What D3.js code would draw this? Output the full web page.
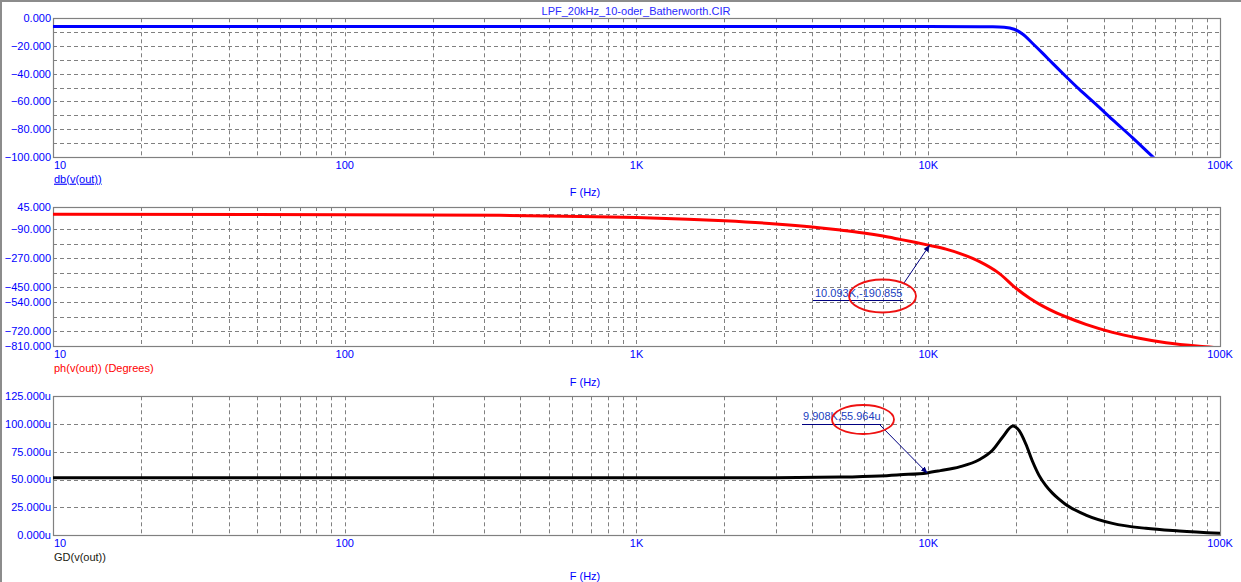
<!DOCTYPE html>
<html>
<head>
<meta charset="utf-8">
<script src="https://cdn.jsdelivr.net/npm/d3@7"></script>
<style>
  html, body { margin: 0; padding: 0; background: #fff; }
  svg { display: block; font-family: "Liberation Sans", Arial, sans-serif; }
</style>
</head>
<body>
<svg id="chart" width="1241" height="582"></svg>
<script>
// ---------------- DATA ----------------
const title = "LPF_20kHz_10-oder_Batherworth.CIR";
const xTickValues = [10, 100, 1000, 10000, 100000];
const xTickLabels = ["10", "100", "1K", "10K", "100K"];

// Magnitude (dB)
const magFreq = [10, 100, 1000, 5000, 10000, 15000, 16400, 18200, 19700, 21100, 22800, 24600, 26700, 29700, 32900, 37600, 42800, 50200, 58600, 65000];
const magDb   = [-6, -6, -6, -6, -6, -6.05, -6.15, -6.5, -7.9, -11.5, -18.2, -25, -32.6, -42.2, -51.2, -62.2, -73.2, -86.4, -99.8, -108.5];
const magTicks = [0, -20, -40, -60, -80, -100];
const magGrid  = [-10, -20, -30, -40, -50, -60, -70, -80, -90];

// Phase (degrees)
const phFreq = [10, 100, 340, 1000, 1500, 2000, 3000, 4000, 5000, 6000, 7000, 8000, 9000, 10093, 11500, 12800, 15000, 17500, 20000, 22200, 24700, 27500, 29600, 34700, 42800, 52900, 65300, 84900, 100000];
const phDeg  = [0, -2, -6.5, -20, -30, -40, -59, -78, -97, -115, -134, -154, -172, -190.855, -214, -240, -291, -363, -455, -515, -565, -606, -630, -677, -726, -762, -790, -812, -822];
const phTicks = [45, -90, -270, -450, -540, -720, -810];
const phGrid  = [0, -90, -180, -270, -360, -450, -540, -630, -720];

// Group delay (u s)
const gdFreq = [10, 100, 1000, 3000, 5000, 6800, 8000, 9908, 11000, 12800, 15000, 16600, 18000, 19500, 20500, 21600, 22800, 24000, 25300, 26700, 28000, 29600, 34700, 42800, 55700, 72500, 100000];
const gdUs   = [51.5, 51.5, 51.5, 51.7, 52.2, 53.2, 54.3, 55.964, 58, 61.4, 68.1, 76.4, 88.4, 98.3, 94, 82, 66, 53.5, 44.5, 37.5, 32.5, 27.5, 18, 10.5, 6, 3.6, 1.5];
const gdTicks = [125, 100, 75, 50, 25, 0];
const gdGrid  = [25, 50, 75, 100];

// Cursor annotations
const phCursor = { f: 10093, v: -190.855, label: "10.093K,-190.855" };
const gdCursor = { f: 9908, v: 55.964, label: "9.908K,55.964u" };

// ---------------- LAYOUT ----------------
const svg = d3.select("#chart");
const X0 = 53, X1 = 1220;
const x = d3.scaleLog().domain([10, 100000]).range([X0, X1]);
const gridColor = "#808080";
const axisBlue = "#0000ff";
const FS = 11;

// window borders
svg.append("line").attr("x1", 1).attr("y1", 0).attr("x2", 1).attr("y2", 582).attr("stroke", "#8c8c8c").attr("stroke-width", 2);
svg.append("line").attr("x1", 0).attr("y1", 1).attr("x2", 1241).attr("y2", 1).attr("stroke", "#8c8c8c").attr("stroke-width", 2);

svg.append("text").attr("x", 636).attr("y", 15).attr("text-anchor", "middle")
  .attr("font-size", FS).attr("fill", "#2a2aff").text(title);

const defs = svg.append("defs");
defs.append("marker").attr("id", "arrow").attr("viewBox", "0 0 10 10")
  .attr("refX", 9).attr("refY", 5).attr("markerWidth", 7).attr("markerHeight", 7)
  .attr("markerUnits", "userSpaceOnUse").attr("orient", "auto")
  .append("path").attr("d", "M0,1 L10,5 L0,9 Z").attr("fill", "#000080");

const panels = [
  { id: "p1", top: 18.3, bottom: 156.7, domain: [-100, 0], freq: magFreq, vals: magDb, ticks: magTicks, grid: magGrid,
    color: "#0000ff", suffix: "", label: "db(v(out))", labelColor: "#0000ff", underline: true, fLabelY: 196 },
  { id: "p2", top: 207, bottom: 346, domain: [-810, 45], freq: phFreq, vals: phDeg, ticks: phTicks, grid: phGrid,
    color: "#ff0000", suffix: "", label: "ph(v(out)) (Degrees)", labelColor: "#ff0000", underline: false, fLabelY: 386 },
  { id: "p3", top: 396.3, bottom: 535, domain: [0, 125], freq: gdFreq, vals: gdUs, ticks: gdTicks, grid: gdGrid,
    color: "#000000", suffix: "u", label: "GD(v(out))", labelColor: "#202010", underline: false, fLabelY: 580 }
];

const fmt = d3.format(".3f");
const vGrid = x.ticks().filter(t => t > 10 && t < 100000);

panels.forEach(p => {
  const y = d3.scaleLinear().domain(p.domain).range([p.bottom, p.top]);
  p.y = y;
  const g = svg.append("g");

  defs.append("clipPath").attr("id", "clip-" + p.id).append("rect")
    .attr("x", X0).attr("y", p.top).attr("width", X1 - X0).attr("height", p.bottom - p.top);

  g.selectAll(".vg").data(vGrid).join("line")
    .attr("x1", d => Math.round(x(d)) + 0.5).attr("x2", d => Math.round(x(d)) + 0.5)
    .attr("y1", p.top).attr("y2", p.bottom)
    .attr("stroke", gridColor).attr("stroke-width", 1).attr("stroke-dasharray", "4,3");
  g.selectAll(".hg").data(p.grid).join("line")
    .attr("x1", X0).attr("x2", X1)
    .attr("y1", d => Math.round(y(d)) + 0.5).attr("y2", d => Math.round(y(d)) + 0.5)
    .attr("stroke", gridColor).attr("stroke-width", 1).attr("stroke-dasharray", "4,3");

  g.append("rect").attr("x", X0 + 0.5).attr("y", Math.round(p.top) + 0.5)
    .attr("width", X1 - X0).attr("height", Math.round(p.bottom) - Math.round(p.top))
    .attr("fill", "none").attr("stroke", gridColor).attr("stroke-width", 1.2);

  g.selectAll(".yt").data(p.ticks).join("text")
    .attr("x", 51).attr("y", d => y(d)).attr("dy", "0.36em")
    .attr("text-anchor", "end").attr("font-size", FS).attr("fill", axisBlue)
    .text(d => fmt(d) + p.suffix);

  g.selectAll(".xt").data(xTickValues).join("text")
    .attr("x", (d, i) => i === 0 ? X0 + 1 : x(d)).attr("y", p.bottom + 12)
    .attr("text-anchor", (d, i) => i === 0 ? "start" : "middle")
    .attr("font-size", FS).attr("fill", axisBlue)
    .text((d, i) => xTickLabels[i]);

  const lab = g.append("text").attr("x", X0 + 1).attr("y", p.bottom + 26)
    .attr("font-size", FS).attr("fill", p.labelColor).text(p.label);
  if (p.underline) lab.attr("text-decoration", "underline");

  g.append("text").attr("x", 585).attr("y", p.fLabelY).attr("text-anchor", "middle")
    .attr("font-size", FS).attr("fill", axisBlue).text("F (Hz)");

  const pts = p.freq.map((f, i) => [f, p.vals[i]]);
  g.append("path").datum(pts)
    .attr("clip-path", "url(#clip-" + p.id + ")")
    .attr("d", d3.line().x(d => x(d[0])).y(d => y(d[1])).curve(d3.curveMonotoneX))
    .attr("fill", "none").attr("stroke", p.color).attr("stroke-width", 3)
    .attr("stroke-linejoin", "round");
});

// ---------------- CURSORS ----------------
function cursor(p, c, tx, ty, ux1, ux2, uy, ax, ay, ecx, ecy, erx, ery) {
  const g = svg.append("g");
  g.append("text").attr("x", tx).attr("y", ty).attr("font-size", FS).attr("fill", "#2040c0").text(c.label);
  g.append("line").attr("x1", ux1).attr("x2", ux2).attr("y1", uy).attr("y2", uy)
    .attr("stroke", "#000080").attr("stroke-width", 1);
  g.append("line").attr("x1", ax).attr("y1", ay).attr("x2", x(c.f)).attr("y2", p.y(c.v))
    .attr("stroke", "#000080").attr("stroke-width", 1).attr("marker-end", "url(#arrow)");
  g.append("ellipse").attr("cx", ecx).attr("cy", ecy).attr("rx", erx).attr("ry", ery)
    .attr("fill", "none").attr("stroke", "#ee1111").attr("stroke-width", 1.8);
}
cursor(panels[1], phCursor, 815, 297, 813, 903, 300.5, 904, 283, 882.5, 296, 33.5, 16.5);
cursor(panels[2], gdCursor, 803, 420, 802, 881, 424.5, 880, 425, 863, 419.5, 31, 14.5);
</script>
</body>
</html>
